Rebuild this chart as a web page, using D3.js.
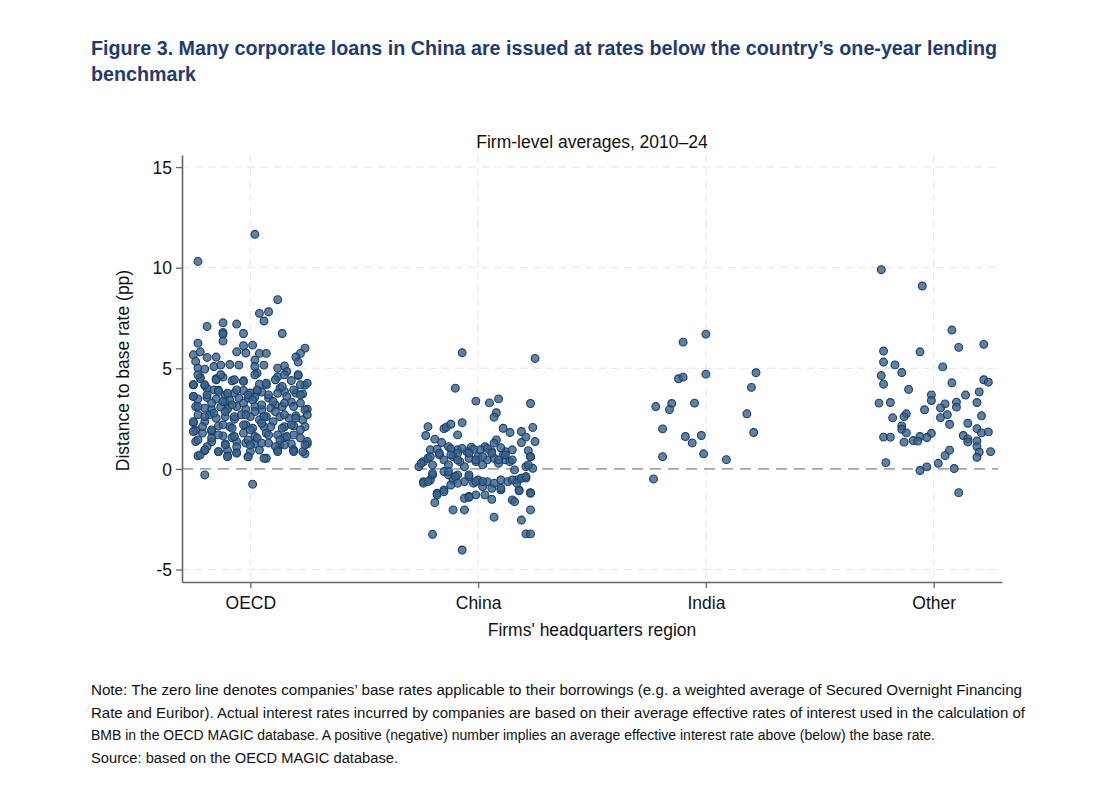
<!DOCTYPE html>
<html lang="en">
<head>
<meta charset="UTF-8"/>
<title>Figure 3 - Distance to base rate</title>
<script src="https://d3js.org/d3.v7.min.js"></script>
<style>
  body { margin: 0; background: #fff; }
  svg { display: block; }
  .tick text { font-family: "Liberation Sans", Arial, sans-serif; font-size: 17.5px; fill: #111; }
</style>
</head>
<body>
<script>
// categories on the x axis
var categories = ["OECD", "China", "India", "Other"];
var yTicks = [-5, 0, 5, 10, 15];

// each point: [horizontal jitter (category units), distance to base rate (pp)]
var oecdPoints = [
  [0.02,11.66],[-0.23,10.31],[0.12,8.41],[0.04,7.73],[0.08,7.81],[0.06,7.35],[-0.19,7.08],[-0.12,7.26],
  [-0.06,7.20],[-0.12,6.78],[-0.12,6.70],[-0.12,6.35],[-0.03,6.73],[0.14,6.73],[-0.23,6.25],[-0.03,6.12],
  [0.01,6.15],[-0.06,5.82],[-0.02,5.76],[0.04,5.74],[0.07,5.74],[0.24,6.00],[-0.25,5.67],[-0.22,5.82],
  [0.22,5.74],[-0.24,5.34],[-0.19,5.54],[-0.15,5.56],[0.02,5.41],[0.06,5.16],[0.20,5.56],[0.21,5.31],
  [-0.23,5.01],[-0.20,4.96],[-0.16,5.09],[-0.13,5.16],[-0.09,5.19],[-0.05,5.16],[0.02,5.09],[0.12,5.01],
  [0.15,5.12],[0.16,4.84],[-0.22,4.56],[-0.22,4.49],[-0.15,4.48],[-0.12,4.56],[-0.08,4.38],[-0.03,4.38],
  [0.03,4.76],[0.12,4.58],[0.21,4.64],[0.18,4.39],[-0.25,4.18],[-0.20,4.14],[-0.19,4.00],[0.24,4.16],
  [0.04,4.21],[0.07,4.18],[0.13,4.01],[-0.25,3.60],[-0.16,3.93],[-0.14,3.91],[-0.11,3.68],[-0.07,3.77],
  [-0.03,3.90],[0.00,3.77],[0.03,3.85],[0.05,3.82],[0.15,3.85],[0.20,3.77],[0.23,3.73],[-0.23,3.48],
  [-0.19,3.55],[-0.15,3.47],[-0.11,3.32],[-0.09,3.40],[-0.05,3.52],[-0.01,3.52],[0.02,3.57],[0.08,3.52],
  [0.11,3.18],[0.18,3.32],[0.22,3.27],[-0.24,3.10],[-0.20,3.02],[-0.17,2.94],[-0.13,3.07],[-0.10,2.97],
  [-0.06,3.10],[-0.02,2.97],[0.02,3.10],[0.05,2.94],[0.09,3.02],[0.14,3.10],[0.25,2.97],[-0.23,2.69],
  [-0.18,2.69],[-0.15,2.52],[-0.11,2.60],[-0.07,2.47],[-0.04,2.69],[0.00,2.60],[0.04,2.44],[0.07,2.60],
  [0.10,2.35],[0.13,2.60],[0.17,2.52],[0.20,2.64],[0.23,2.44],[-0.25,2.30],[-0.20,2.35],[-0.14,2.14],
  [-0.09,2.10],[-0.02,2.19],[0.01,2.02],[0.06,2.10],[0.15,2.10],[0.19,2.14],[0.24,2.10],[-0.24,1.91],
  [-0.21,1.78],[-0.17,1.86],[-0.12,1.64],[-0.08,1.56],[-0.03,1.78],[0.02,1.61],[0.07,1.78],[0.12,1.69],
  [0.15,1.56],[0.19,1.69],[-0.24,1.36],[-0.17,1.36],[-0.11,1.24],[-0.06,1.36],[-0.02,1.28],[0.02,1.24],
  [0.08,1.28],[0.13,1.19],[0.18,1.24],[0.25,1.24],[-0.14,0.86],[-0.10,0.91],[-0.06,0.81],[0.00,0.86],
  [0.04,0.94],[0.12,0.94],[0.19,0.91],[0.24,0.75],[-0.23,0.65],[-0.20,0.91],[-0.10,0.65],[-0.01,0.61],
  [0.07,0.53],[-0.20,-0.30],[0.01,-0.76],
  [-0.25,4.18],[-0.23,4.68],[-0.20,4.18],[-0.15,4.43],[-0.13,4.68],[-0.07,4.43],[-0.03,4.35],[0.02,4.68],
  [0.07,4.26],[0.11,4.43],[0.15,4.68],[0.21,4.68],[0.22,4.18],[0.14,4.10],[0.19,3.93],[0.25,4.26],
  [-0.25,3.60],[-0.19,3.68],[-0.14,3.85],[-0.10,3.76],[-0.06,3.93],[-0.01,3.68],[0.03,3.93],[0.08,3.68],
  [0.12,3.76],[0.16,3.60],[0.22,3.68],[-0.23,3.10],[-0.17,3.27],[-0.12,3.35],[-0.08,3.18],[-0.03,3.27],
  [0.01,3.43],[0.05,3.18],[0.10,3.35],[0.15,3.27],[0.19,3.10],[0.24,2.93],[-0.25,2.35],[-0.20,2.60],
  [-0.16,2.77],[-0.11,2.85],[-0.07,2.60],[-0.02,2.69],[0.02,2.85],[0.06,2.60],[0.11,2.85],[0.15,2.69],
  [0.20,2.52],[0.25,2.69],[-0.25,1.86],[-0.21,2.10],[-0.17,1.94],[-0.12,2.19],[-0.08,2.02],[-0.03,2.19],
  [0.00,1.94],[0.05,2.27],[0.09,2.10],[0.14,2.02],[0.18,2.19],[0.22,1.94],[-0.23,1.44],[-0.17,1.53],
  [-0.14,1.69],[-0.07,1.61],[-0.01,1.44],[0.03,1.53],[0.08,1.69],[0.13,1.44],[0.16,1.61],[0.22,1.53],
  [0.25,1.36],[-0.19,1.11],[-0.11,1.19],[-0.06,1.11],[0.00,1.19],[0.05,1.28],[0.11,1.11],[0.15,1.19],
  [0.19,0.95],[0.24,1.19],[-0.22,0.70],[-0.20,0.95],[-0.14,0.86],[-0.10,0.61],[-0.06,0.78],[-0.01,0.61],
  [0.06,0.53],[0.12,0.86],[0.19,0.86],[0.23,0.86]
];

var chinaPoints = [
  [-0.07,5.77],[0.25,5.49],[-0.10,4.01],[-0.01,3.37],[0.05,3.28],[0.09,3.48],[0.23,3.25],[0.08,2.79],
  [0.07,2.57],[-0.22,2.10],[-0.15,2.00],[-0.14,2.07],[-0.12,2.22],[-0.07,2.30],[-0.09,1.69],[0.11,2.02],
  [0.14,1.81],[0.19,1.86],[0.24,2.06],[0.21,1.58],[0.25,1.36],[0.19,1.31],[0.08,1.44],[0.07,1.28],
  [-0.23,1.66],[-0.19,1.48],[-0.16,1.31],[-0.13,1.11],[0.03,1.11],[-0.03,1.08],[-0.21,0.95],[-0.09,0.95],
  [0.06,0.86],[0.12,0.86],[0.22,0.91],[-0.05,0.86],[0.01,0.95],[0.11,0.70],[0.23,0.61],
  [-0.18,0.98],[-0.12,1.00],[-0.02,0.98],[0.04,1.02],[0.10,1.05],[0.15,0.95],[-0.07,1.02],
  [-0.26,0.11],[-0.24,0.36],[-0.22,0.53],[-0.20,0.20],[-0.17,0.70],[-0.15,0.45],[-0.13,0.20],[-0.11,0.61],
  [-0.09,0.78],[-0.08,0.36],[-0.06,0.11],[-0.04,0.53],[-0.01,0.36],[0.00,0.61],[0.02,0.20],[0.04,0.45],
  [0.07,0.53],[0.09,0.28],[0.12,0.45],[0.14,0.36],[0.21,0.11],[0.24,0.03],[0.16,-0.05],
  [-0.25,0.28],[-0.21,0.61],[-0.17,0.78],[-0.12,0.70],[-0.09,0.45],[-0.04,0.78],[-0.01,0.45],[0.02,0.61],
  [0.06,0.78],[0.09,0.45],[0.12,0.70],[0.15,0.45],[0.23,0.61],[0.22,0.20],
  [-0.24,-0.63],[-0.21,-0.55],[-0.20,-0.30],[-0.15,-0.13],[-0.13,-0.30],[-0.11,-0.55],[-0.09,-0.30],[-0.06,-0.63],
  [-0.04,-0.38],[-0.02,-0.71],[0.00,-0.55],[0.02,-0.88],[0.04,-0.63],[0.06,-0.96],[0.10,-0.55],[0.10,-1.04],
  [0.13,-0.63],[0.17,-0.55],[0.19,-0.46],[0.21,-0.46],[0.18,-1.04],
  [-0.24,-0.71],[-0.22,-0.63],[-0.20,-0.22],[-0.13,-0.13],[-0.10,-0.38],[-0.09,-0.71],[-0.04,-0.30],[-0.01,-0.63],
  [0.02,-0.63],[0.07,-0.71],[0.10,-0.96],[0.15,-0.55],[0.17,-0.71],[0.19,-0.46],[0.21,-0.38],
  [-0.18,-1.21],[-0.15,-1.04],[-0.12,-0.80],[-0.04,-1.37],[0.03,-1.29],[0.06,-1.51],[0.15,-1.54],[0.23,-1.18],
  [0.18,-1.09],[-0.18,-1.29],[-0.15,-1.13],[-0.01,-1.29],[-0.06,-1.46],[-0.04,-1.41],[0.16,-1.63],[0.23,-1.21],
  [-0.19,-1.68],[-0.11,-2.04],[-0.06,-2.04],[0.07,-2.40],[0.19,-2.54],[0.23,-2.04],[-0.20,-3.25],[0.21,-3.23],
  [0.23,-3.23],[-0.07,-4.03]
];

var indiaPoints = [
  [0.00,6.70],[-0.10,6.30],[-0.12,4.48],[-0.10,4.56],[0.00,4.71],[0.22,4.78],[0.20,4.05],[-0.22,3.10],
  [-0.15,3.25],[-0.16,2.95],[-0.05,3.27],[0.18,2.74],[-0.19,1.99],[0.21,1.81],[-0.09,1.61],[-0.02,1.66],
  [-0.06,1.29],[-0.19,0.61],[-0.01,0.75],[0.09,0.46],[-0.23,-0.50]
];

var otherPoints = [
  [-0.23,9.90],[-0.05,9.09],[0.08,6.90],[0.11,6.04],[0.22,6.19],[-0.22,5.86],[-0.06,5.82],[-0.22,5.31],
  [-0.17,5.17],[0.04,5.07],[-0.14,4.79],[-0.23,4.64],[-0.22,4.21],[0.22,4.43],[0.24,4.31],[0.08,4.28],
  [-0.11,3.95],[0.20,3.83],[-0.01,3.68],[0.14,3.67],[-0.01,3.40],[-0.24,3.27],[-0.19,3.30],[0.10,3.32],
  [0.19,3.30],[0.05,3.23],[0.03,3.03],[0.10,3.07],[-0.04,2.94],[-0.12,2.74],[0.21,2.64],[-0.18,2.54],
  [0.03,2.55],[0.06,2.70],[-0.13,2.60],[0.07,2.22],[0.15,2.27],[-0.14,2.14],[-0.14,1.97],[0.19,2.00],
  [-0.12,1.79],[-0.01,1.77],[0.21,1.79],[0.24,1.84],[-0.22,1.58],[-0.19,1.58],[-0.06,1.61],[-0.03,1.56],
  [0.13,1.66],[0.15,1.49],[-0.13,1.33],[-0.09,1.41],[-0.07,1.38],[0.15,1.34],[0.19,1.39],[0.19,1.11],
  [0.07,0.93],[0.20,0.83],[0.25,0.86],[0.05,0.66],[0.19,0.58],[-0.21,0.31],[0.02,0.28],[-0.03,0.10],
  [-0.06,-0.08],[0.09,0.02],[0.11,-1.18]
];

var groups = [oecdPoints, chinaPoints, indiaPoints, otherPoints];

var w = 1097, h = 799;
var plotLeft = 182, plotRight = 1002, plotTop = 155, plotBottom = 582;

var svg = d3.select("body").append("svg")
  .attr("width", w)
  .attr("height", h);

svg.append("rect").attr("width", w).attr("height", h).attr("fill", "#fff");

// scales: categories sit at 1..4 on a linear scale so the jitter can be added
var xScale = d3.scaleLinear().domain([0.7, 4.3]).range([plotLeft, plotRight]);
var yScale = d3.scaleLinear().domain([-5.62, 15.6]).range([plotBottom, plotTop]);

// title
var title = svg.append("g")
  .attr("font-family", "'Liberation Sans Narrow', 'Arial Narrow', 'Liberation Sans', Arial, sans-serif")
  .attr("font-weight", "bold")
  .attr("font-size", 21)
  .attr("fill", "#1f3b70");
title.append("text").attr("x", 91).attr("y", 55)
  .attr("textLength", 906).attr("lengthAdjust", "spacingAndGlyphs")
  .text("Figure 3. Many corporate loans in China are issued at rates below the country\u2019s one-year lending");
title.append("text").attr("x", 91).attr("y", 81)
  .attr("textLength", 105).attr("lengthAdjust", "spacingAndGlyphs")
  .text("benchmark");

// subtitle
svg.append("text")
  .attr("x", (plotLeft + plotRight) / 2).attr("y", 148)
  .attr("text-anchor", "middle")
  .attr("font-family", "'Liberation Sans', Arial, sans-serif")
  .attr("font-size", 17.5)
  .attr("fill", "#111")
  .text("Firm-level averages, 2010\u201324");

// gridlines
var grid = svg.append("g").attr("stroke", "#e6e6e6").attr("stroke-width", 1).attr("stroke-dasharray", "8,5");
grid.selectAll("line.h")
  .data(yTicks.filter(function(d) { return d !== 0; }))
  .enter().append("line")
  .attr("x1", plotLeft).attr("x2", plotRight - 4)
  .attr("y1", function(d) { return yScale(d); })
  .attr("y2", function(d) { return yScale(d); });
grid.selectAll("line.v")
  .data([1, 2, 3, 4])
  .enter().append("line")
  .attr("y1", plotTop).attr("y2", plotBottom)
  .attr("x1", function(d) { return xScale(d); })
  .attr("x2", function(d) { return xScale(d); });

// zero line
svg.append("line")
  .attr("x1", plotLeft).attr("x2", plotRight - 4)
  .attr("y1", yScale(0)).attr("y2", yScale(0))
  .attr("stroke", "#a6a6a6").attr("stroke-width", 1.6)
  .attr("stroke-dasharray", "11,7");

// points
groups.forEach(function(pts, i) {
  svg.append("g").selectAll("circle")
    .data(pts)
    .enter().append("circle")
    .attr("cx", function(d) { return xScale(i + 1 + d[0]); })
    .attr("cy", function(d) { return yScale(d[1]); })
    .attr("r", 3.9)
    .attr("fill", "#36628e")
    .attr("fill-opacity", 0.8)
    .attr("stroke", "#1d3f63")
    .attr("stroke-width", 1.1);
});

// axes
var xAxis = d3.axisBottom(xScale)
  .tickValues([1, 2, 3, 4])
  .tickFormat(function(d) { return categories[d - 1]; })
  .tickSize(6).tickSizeOuter(0).tickPadding(9);
var yAxis = d3.axisLeft(yScale)
  .tickValues(yTicks)
  .tickFormat(function(d) { return String(d); })   // plain hyphen for -5
  .tickSize(6).tickSizeOuter(0).tickPadding(4);

var gx = svg.append("g").attr("transform", "translate(0," + plotBottom + ")").call(xAxis);
var gy = svg.append("g").attr("transform", "translate(" + plotLeft + ",0)").call(yAxis);
[gx, gy].forEach(function(g) {
  g.select(".domain").attr("stroke", "#666").attr("stroke-width", 1.6);
  g.selectAll(".tick line").attr("stroke", "#666").attr("stroke-width", 1.3);
});
gy.selectAll(".tick text").attr("dy", "0.35em");

// axis titles
svg.append("text")
  .attr("x", (plotLeft + plotRight) / 2).attr("y", 636)
  .attr("text-anchor", "middle")
  .attr("font-family", "'Liberation Sans', Arial, sans-serif")
  .attr("font-size", 17.5).attr("fill", "#111")
  .text("Firms' headquarters region");

svg.append("text")
  .attr("transform", "translate(129," + ((plotTop + plotBottom) / 2 + 2) + ") rotate(-90)")
  .attr("text-anchor", "middle")
  .attr("font-family", "'Liberation Sans', Arial, sans-serif")
  .attr("font-size", 17.5).attr("fill", "#111")
  .text("Distance to base rate (pp)");

// note
var noteLines = [
  ["Note: The zero line denotes companies\u2019 base rates applicable to their borrowings (e.g. a weighted average of Secured Overnight Financing", 931],
  ["Rate and Euribor). Actual interest rates incurred by companies are based on their average effective rates of interest used in the calculation of", 934],
  ["BMB in the OECD MAGIC database. A positive (negative) number implies an average effective interest rate above (below) the base rate.", 844],
  ["Source: based on the OECD MAGIC database.", 307]
];
var note = svg.append("g")
  .attr("font-family", "'Liberation Sans Narrow', 'Arial Narrow', 'Liberation Sans', Arial, sans-serif")
  .attr("font-size", 15.5).attr("fill", "#111");
note.selectAll("text")
  .data(noteLines)
  .enter().append("text")
  .attr("x", 91)
  .attr("y", function(d, i) { return 695 + i * 22.7; })
  .attr("textLength", function(d) { return d[1]; })
  .attr("lengthAdjust", "spacingAndGlyphs")
  .text(function(d) { return d[0]; });
</script>
</body>
</html>
